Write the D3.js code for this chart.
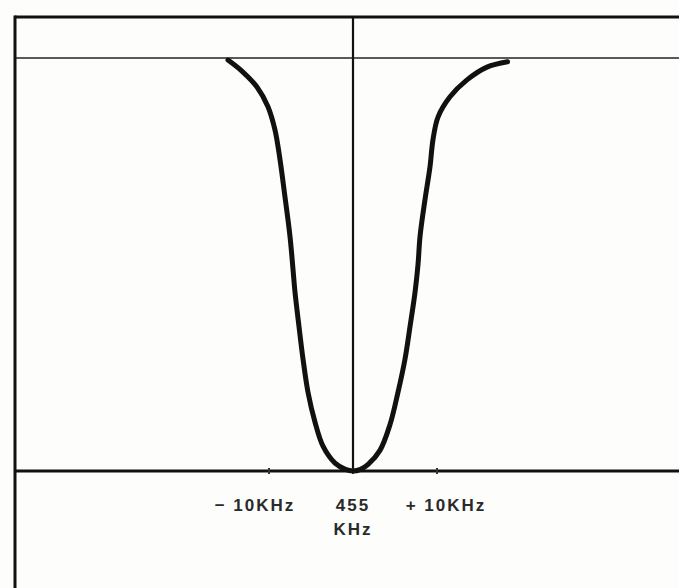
<!DOCTYPE html>
<html>
<head>
<meta charset="utf-8">
<script src="https://cdn.jsdelivr.net/npm/d3@7/dist/d3.min.js"></script>
<style>
html,body{margin:0;padding:0;background:#fdfdfb;}
svg{display:block;}
</style>
</head>
<body>
<svg id="chart" width="679" height="588"></svg>
<script>
// Frequency offset from 455 kHz (kHz) and relative response (0 = baseline, 100 = top reference line)
const freqOffset = [-14.88, -13.1, -11.43, -10.12, -9.29, -8.69, -8.1, -7.5, -7.14, -6.9, -6.43, -5.95, -5.36, -4.52, -3.57, -2.14, -0.9, 0, 0.9, 1.8, 3.21, 4.4, 5.36, 6.19, 6.79, 7.38, 7.74, 7.98, 8.57, 9.17, 9.52, 10.12, 11.55, 13.57, 15.95, 18.4];
const response   = [99.5, 96.6, 93.0, 88.2, 82.6, 75.4, 66.4, 56.8, 48.8, 43.2, 35.0, 27.1, 19.1, 11.8, 6.0, 1.9, 0.4, 0, 0.4, 1.6, 5.0, 11.2, 19.1, 27.1, 35.0, 43.2, 50.0, 56.8, 65.7, 73.7, 80.2, 85.7, 90.6, 94.7, 97.8, 99.1];
const tickValues = [-10, 0, 10];
const tickLabels = ["\u2212 10KHz", "455", "+ 10KHz"];
const centerSubLabel = "KHz";

(function () {
const svg = d3.select("#chart");
const x = d3.scaleLinear().domain([-10, 10]).range([269, 437]);
const y = d3.scaleLinear().domain([0, 100]).range([471, 58]);

const W = 679, H = 588;
const frameL = 15, frameT = 17;
const ink = "#111";

// top reference line (thin grey)
svg.append("line").attr("x1", frameL).attr("x2", W).attr("y1", y(100)).attr("y2", y(100))
  .attr("stroke", "#5a5a5a").attr("stroke-width", 2);

// frame: top border and left border
svg.append("line").attr("x1", frameL).attr("x2", W).attr("y1", frameT).attr("y2", frameT)
  .attr("stroke", ink).attr("stroke-width", 3);
svg.append("line").attr("x1", frameL).attr("x2", frameL).attr("y1", frameT - 1.5).attr("y2", H)
  .attr("stroke", ink).attr("stroke-width", 3);

// center vertical line
svg.append("line").attr("x1", x(0)).attr("x2", x(0)).attr("y1", frameT).attr("y2", y(0))
  .attr("stroke", ink).attr("stroke-width", 2.2);

// baseline axis
svg.append("line").attr("x1", frameL).attr("x2", W).attr("y1", y(0)).attr("y2", y(0))
  .attr("stroke", ink).attr("stroke-width", 3);

// tick marks
svg.selectAll("line.tick").data(tickValues).enter().append("line")
  .attr("class", "tick")
  .attr("x1", d => x(d)).attr("x2", d => x(d))
  .attr("y1", y(0) - 3).attr("y2", y(0) + 3)
  .attr("stroke", "#333").attr("stroke-width", 2);

// response curve
const pts = freqOffset.map((f, i) => [f, response[i]]);
const line = d3.line().x(d => x(d[0])).y(d => y(d[1])).curve(d3.curveCatmullRom.alpha(0.5));
svg.append("path").datum(pts).attr("d", line)
  .attr("fill", "none").attr("stroke", ink).attr("stroke-width", 5)
  .attr("stroke-linecap", "round").attr("stroke-linejoin", "round");

// tick labels
const font = "'Liberation Sans', Arial, sans-serif";
svg.selectAll("text.lbl").data(tickValues).enter().append("text")
  .attr("class", "lbl")
  .attr("x", (d, i) => i === 1 ? x(d) : (i === 0 ? x(d) - 14 : x(d) + 9))
  .attr("y", 511)
  .attr("text-anchor", "middle")
  .attr("font-family", font).attr("font-size", 17).attr("font-weight", "bold")
  .attr("fill", "#2a2a2a").attr("letter-spacing", 2)
  .text((d, i) => tickLabels[i]);
svg.append("text").attr("x", x(0)).attr("y", 535).attr("text-anchor", "middle")
  .attr("font-family", font).attr("font-size", 17).attr("font-weight", "bold")
  .attr("fill", "#2a2a2a").attr("letter-spacing", 2)
  .text(centerSubLabel);
})();
</script>
</body>
</html>
